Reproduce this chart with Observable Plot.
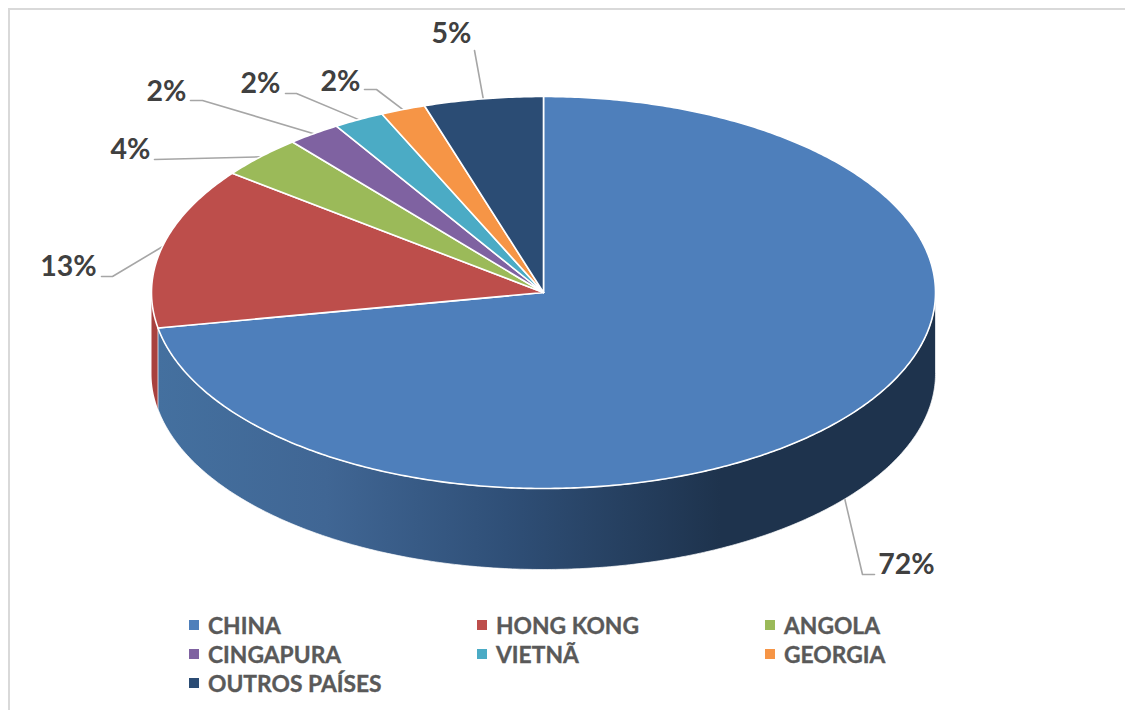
<!DOCTYPE html>
<html>
<head>
<meta charset="utf-8">
<script src="https://cdn.jsdelivr.net/npm/d3@7"></script>
<script src="https://cdn.jsdelivr.net/npm/@observablehq/plot@0.6"></script>
<style>
html,body{margin:0;padding:0;background:#fff;width:1125px;height:710px;overflow:hidden}
#frame{position:absolute;left:8px;top:8px;right:0;bottom:0;border-left:2.5px solid #d9d9d9;border-top:2.5px solid #d9d9d9}
#chart{position:absolute;left:0;top:0}
#legend{position:absolute;left:189px;top:610px;display:grid;grid-template-columns:repeat(3,288px);grid-auto-rows:29px;
 font:bold 22.8px Lato,sans-serif;color:#595959;-webkit-text-stroke:0.35px #595959}
#legend div{display:flex;align-items:center;white-space:nowrap}
#legend i{display:inline-block;width:10px;height:9.5px;margin-right:9px;position:relative;top:0.5px}
#chart text{-webkit-text-stroke:0.4px #404040}
</style>
</head>
<body>
<div id="frame"></div>
<div id="chart"></div>
<div id="legend"></div>
<script>
// Data
const categories = ["CHINA","HONG KONG","ANGOLA","CINGAPURA","VIETNÃ","GEORGIA","OUTROS PAÍSES"];
const shares = [72.1,13.3,3.54,2.2,2.1,1.85,4.91];
const percentLabels = ["72%","13%","4%","2%","2%","2%","5%"];
const colors = ["#4e7fbb","#bd4e4b","#9bba59","#7f62a1","#4babc5","#f69546","#2b4c74"];
const sideColor = "#a8413e";

// 3-D look: unit circle squashed by the scales; the rim drops by this many units
const depth = 81 / 196;
const arcs = d3.pie().sort(null).value(d => d)(shares);
const ux = t => Math.sin(t), uy = t => Math.cos(t);

function sweep(a, b) {
  const n = Math.max(2, Math.ceil((b - a) / 0.01));
  return d3.range(n + 1).map(i => a + (b - a) * i / n);
}
const wedgePts = arcs.flatMap((arc, i) => {
  const ts = sweep(arc.startAngle, arc.endAngle);
  const ring = [{x:0,y:0}, ...ts.map(t => ({x:ux(t),y:uy(t)})), {x:0,y:0}];
  return ring.map(p => ({...p, name: categories[i]}));
});
function rim(a, b) {
  const ts = sweep(a, b);
  const top = ts.map(t => ({x:ux(t),y:uy(t)}));
  const bot = ts.slice().reverse().map(t => ({x:ux(t),y:uy(t)-depth}));
  return [...top, ...bot, top[0]];
}
const chinaRim = rim(Math.PI / 2, arcs[0].endAngle);
const hkRim = rim(arcs[0].endAngle, 1.5 * Math.PI);

// Leader lines begin on the slice's rim at its mid-angle
const px = x => (x - 543) / 392, py = y => (292 - y) / 196;
const elbows = [[862,574],[112,276],[154,159],[202,100],[296,93],[376,89],[474,50]];
const tails  = [[874,574],[101,276],[154,159],[190,100],[285,93],[364,89],[474,50]];
const labelAt = [[906,564],[68,266],[130,149],[166,91],[260,83],[340,81],[451,33]];
const leaders = arcs.flatMap((arc, i) => {
  const m = (arc.startAngle + arc.endAngle) / 2;
  const start = {x:ux(m), y:uy(m) - (i === 0 ? depth : 0)};
  return [start, {x:px(elbows[i][0]),y:py(elbows[i][1])}, {x:px(tails[i][0]),y:py(tails[i][1])}]
    .map(p => ({...p, i}));
});
const labels = percentLabels.map((text, i) => ({text, x:px(labelAt[i][0]), y:py(labelAt[i][1])}));

const defs = () => {
  const d = d3.create("svg:defs");
  const g = d.append("linearGradient").attr("id","chinaSide")
    .attr("gradientUnits","userSpaceOnUse").attr("x1",157).attr("x2",720).attr("y1",0).attr("y2",0);
  [[0,"#44709f"],[0.3,"#406694"],[0.62,"#2f4f77"],[1,"#1e334d"]].forEach(([o,c]) =>
    g.append("stop").attr("offset",o).attr("stop-color",c));
  return d.node();
};

const plot = Plot.plot({
  width: 1125, height: 605, margin: 0,
  x: {domain:[-1,1], range:[151,935], axis:null},
  y: {domain:[1,-1], range:[96,488], axis:null},
  color: {domain:categories, range:colors},
  style: {background:"transparent", overflow:"visible"},
  marks: [
    defs,
    Plot.line(leaders, {x:"x", y:"y", z:"i", stroke:"#a6a6a6", strokeWidth:1.6}),
    Plot.line(hkRim, {x:"x", y:"y", fill:sideColor, stroke:"none"}),
    Plot.line(chinaRim, {x:"x", y:"y", fill:"url(#chinaSide)", stroke:"white", strokeWidth:0.7}),
    Plot.line(wedgePts, {x:"x", y:"y", z:"name", fill:"name", stroke:"white", strokeWidth:1.6, strokeLinejoin:"round"}),
    Plot.text(labels, {x:"x", y:"y", text:"text", fontSize:28.5, fontWeight:"bold", fill:"#404040", fontFamily:"Lato, sans-serif"})
  ]
});
document.getElementById("chart").append(plot);

const legend = d3.select("#legend").selectAll("div").data(categories).join("div");
legend.append("i").style("background",(d,i)=>colors[i]);
legend.append("span").text(d=>d);
</script>
</body>
</html>
